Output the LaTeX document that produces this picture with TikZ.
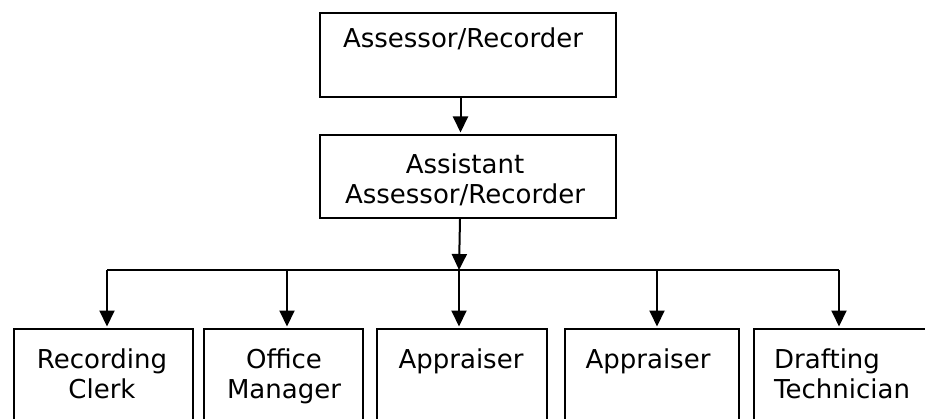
\documentclass[tikz,border=0pt]{standalone}
\usepackage{fontspec}
\setmainfont{DejaVu Sans}
\usetikzlibrary{arrows.meta}
\begin{document}
\begin{tikzpicture}[x=1pt,y=-1pt,
  box/.style={draw,line width=2pt,inner sep=0pt,anchor=north west},
  txt/.style={inner sep=0pt,anchor=base,align=center,font=\fontsize{26}{30}\selectfont},
  conn/.style={line width=2pt},
  arr/.style={line width=2pt,-{Triangle[length=16pt,width=15pt]},shorten >=1.5pt}]
\useasboundingbox (0,0) rectangle (925,419);
\clip (0,0) rectangle (925,419);
% boxes
\node[box,minimum width=296pt,minimum height=84pt] (b1) at (319,12) {};
\node[box,minimum width=296pt,minimum height=83pt] (b2) at (319,134) {};
\node[box,minimum width=179pt,minimum height=120pt] (c1) at (13,328) {};
\node[box,minimum width=159pt,minimum height=120pt] (c2) at (203,328) {};
\node[box,minimum width=170pt,minimum height=120pt] (c3) at (376,328) {};
\node[box,minimum width=174pt,minimum height=120pt] (c4) at (564,328) {};
\node[box,minimum width=190pt,minimum height=120pt] (c5) at (753,328) {};
% texts (base anchor = baseline of last line)
\node[txt] (t1) at (463,48) {Assessor/Recorder};
\node[txt] (t2) at (465,204) {Assistant\\Assessor/Recorder};
\node[txt] (u1) at (102,398) {Recording\\Clerk};
\node[txt] (u2) at (284,398) {Office\\Manager};
\node[txt] (u3) at (461,368) {Appraiser};
\node[txt] (u4) at (648,368) {Appraiser};
\node[txt,anchor=base west,align=left] (u5) at (774,398) {Drafting\\Technician};
% junctions
\coordinate (j1) at (107,270);
\coordinate (j2) at (287,270);
\coordinate (j3) at (459,270);
\coordinate (j4) at (657,270);
\coordinate (j5) at (839,270);
% connectors
\draw[arr] ([xshift=-7.5pt]b1.south) -- ([xshift=-7.5pt]b2.north);
\draw[arr,shorten >=0pt] ([xshift=-8pt]b2.south) -- (j3);
\draw[conn] (j1) -- (j5);
\draw[arr] (j1) -- (j1 |- c1.north);
\draw[arr] (j2) -- (j2 |- c2.north);
\draw[arr] (j3) -- (j3 |- c3.north);
\draw[arr] (j4) -- (j4 |- c4.north);
\draw[arr] (j5) -- (j5 |- c5.north);
\end{tikzpicture}
\end{document}
